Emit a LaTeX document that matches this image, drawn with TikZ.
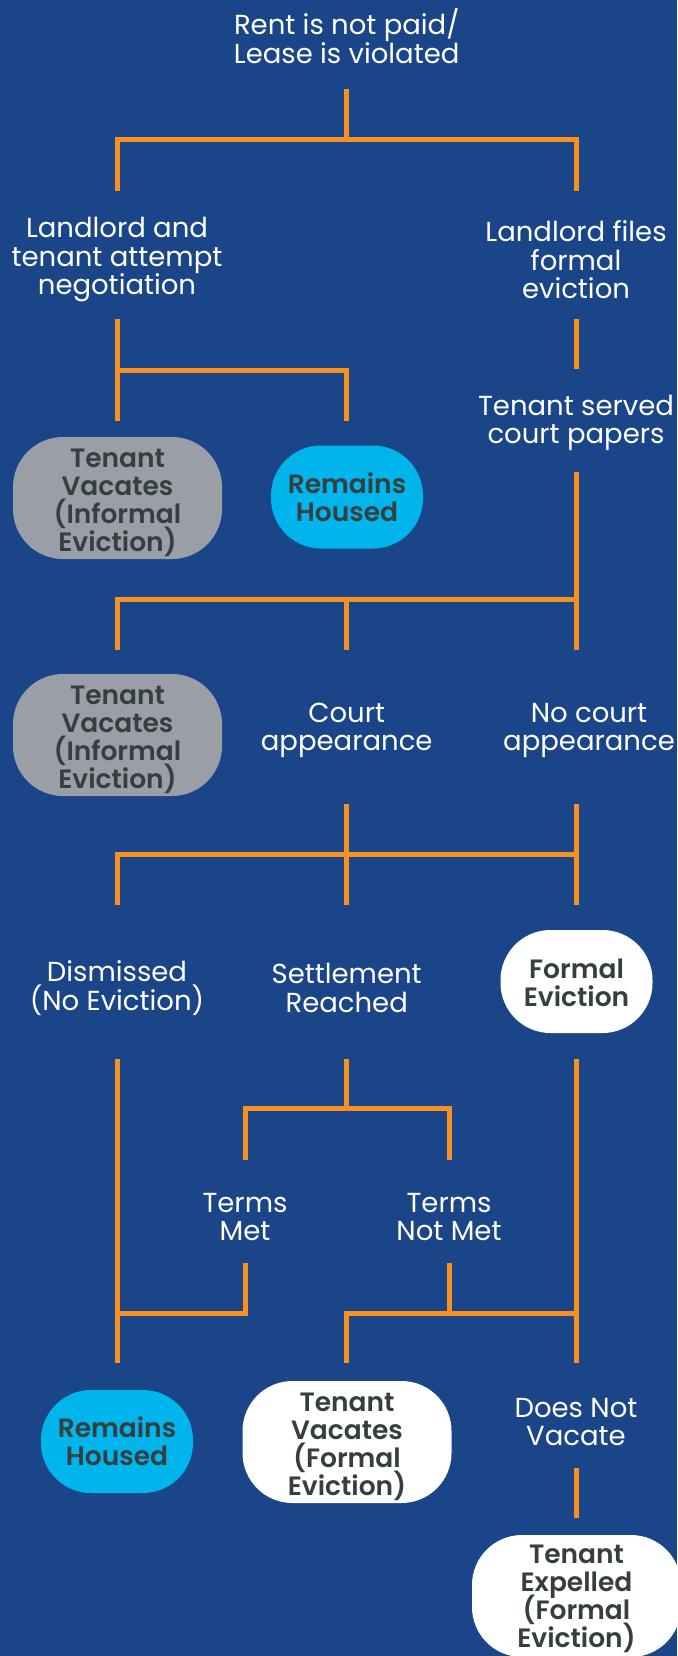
\documentclass[tikz,border=0pt]{standalone}
\usepackage{fontspec}
\setmainfont{Poppins}
\newfontfamily\medfont{Poppins SemiBold}
\definecolor{bg}{HTML}{1B4589}
\definecolor{orng}{HTML}{F7901E}
\definecolor{cyanb}{HTML}{00B4EC}
\definecolor{grayb}{HTML}{9A9EA6}
\definecolor{dtext}{HTML}{363F40}
\newcommand{\pushdown}[1]{\rule{0pt}{#1}}
\setlength{\lineskiplimit}{-30pt}
\begin{document}
\begin{tikzpicture}[x=1pt,y=-1pt,
  lbl/.style={text=white,align=center,inner sep=0pt,font=\fontsize{27.5}{28.5}\selectfont},
  oval/.style={align=center,inner sep=0pt,text=dtext,font=\medfont\fontsize{26.5}{28}\selectfont,rounded corners=50pt},
  bigoval/.style={oval,minimum width=209pt,minimum height=122pt},
  smalloval/.style={oval,minimum width=152pt,minimum height=103pt},
  conn/.style={draw=orng,line width=5pt,line join=miter}]
\def\L{117}\def\C{346.7}\def\R{576}\def\TM{245}\def\TN{449}
\fill[bg] (0,0) rectangle (677,1656);
\useasboundingbox (0,0) rectangle (677,1656);
% labels
\node[lbl] (root) at (\C,36) {Rent is not paid/\\Lease is violated};
\node[lbl] (nego) at (\L,260) {Landlord and\\tenant attempt\\negotiation};
\node[lbl] (files) at (\R,260) {Landlord files\\formal\\eviction};
\node[lbl] (served) at (\R,423) {Tenant served\\court papers};
\node[bigoval,fill=grayb] (vac1) at (117.5,498) {\pushdown{28.5pt}Tenant\\Vacates\\(Informal\\Eviction)};
\node[smalloval,fill=cyanb] (rem1) at (347,497) {Remains\\Housed};
\node[bigoval,fill=grayb] (vac2) at (117.5,735) {\pushdown{28.5pt}Tenant\\Vacates\\(Informal\\Eviction)};
\node[lbl] (court) at (\C,730.5) {Court\\appearance};
\node[lbl] (nocourt) at (589,730.5) {No court\\appearance};
\node[lbl] (dism) at (\L,988) {Dismissed\\(No Eviction)};
\node[lbl] (settle) at (\C,988) {Settlement\\Reached};
\node[smalloval,fill=white] (formal) at (576.5,981.5) {\pushdown{22.5pt}Formal\\Eviction};
\node[lbl] (met) at (\TM,1217) {Terms\\Met};
\node[lbl] (notmet) at (\TN,1217) {Terms\\Not Met};
\node[smalloval,fill=cyanb] (rem2) at (117,1441.5) {Remains\\Housed};
\node[bigoval,fill=white] (vac3) at (347,1442) {\pushdown{28.5pt}Tenant\\Vacates\\(Formal\\Eviction)};
\node[lbl] (novac) at (\R,1422) {Does Not\\Vacate};
\node[bigoval,fill=white] (expel) at (576.5,1596) {\pushdown{24pt}Tenant\\Expelled\\(Formal\\Eviction)};
% coordinates
\coordinate (a0) at (\C,89); \coordinate (a1) at (\C,140);
\coordinate (a2) at (\L,140); \coordinate (a3) at (\R,140);
\coordinate (a4) at (\L,191); \coordinate (a5) at (\R,191);
\coordinate (b0) at (\L,319); \coordinate (b1) at (\L,421);
\coordinate (b2) at (\L,370); \coordinate (b3) at (\C,370); \coordinate (b4) at (\C,421);
\coordinate (c0) at (\R,319); \coordinate (c1) at (\R,369);
\coordinate (d0) at (\R,472); \coordinate (d1) at (\R,650);
\coordinate (d2) at (\R,599); \coordinate (d3) at (\L,599); \coordinate (d4) at (\L,650);
\coordinate (d5) at (\C,599); \coordinate (d6) at (\C,650);
\coordinate (e0) at (\C,804); \coordinate (e1) at (\C,905);
\coordinate (e2) at (\R,804); \coordinate (e3) at (\R,905);
\coordinate (e4) at (\L,905); \coordinate (e5) at (\L,854); \coordinate (e6) at (\R,854);
\coordinate (f0) at (\L,1059); \coordinate (f1) at (\L,1363);
\coordinate (f2) at (\L,1313); \coordinate (f3) at (\TM,1313); \coordinate (f4) at (\TM,1263);
\coordinate (g0) at (\C,1059); \coordinate (g1) at (\C,1108);
\coordinate (g2) at (\TM,1160); \coordinate (g3) at (\TM,1108); \coordinate (g4) at (\TN,1108); \coordinate (g5) at (\TN,1160);
\coordinate (h0) at (\TN,1263); \coordinate (h1) at (\TN,1313);
\coordinate (h2) at (\C,1363); \coordinate (h3) at (\C,1313); \coordinate (h4) at (\R,1313);
\coordinate (h5) at (\R,1059); \coordinate (h6) at (\R,1363);
\coordinate (k0) at (\R,1468); \coordinate (k1) at (\R,1518);
% connectors
\draw[conn] (a0) -- (a1);
\draw[conn] (a4) -- (a2) -- (a3) -- (a5);
\draw[conn] (b0) -- (b1);
\draw[conn] (b2) -- (b3) -- (b4);
\draw[conn] (c0) -- (c1);
\draw[conn] (d0) -- (d1);
\draw[conn] (d2) -- (d3) -- (d4);
\draw[conn] (d5) -- (d6);
\draw[conn] (e0) -- (e1);
\draw[conn] (e2) -- (e3);
\draw[conn] (e4) -- (e5) -- (e6);
\draw[conn] (f0) -- (f1);
\draw[conn] (f2) -- (f3) -- (f4);
\draw[conn] (g0) -- (g1);
\draw[conn] (g2) -- (g3) -- (g4) -- (g5);
\draw[conn] (h0) -- (h1);
\draw[conn] (h2) -- (h3) -- (h4);
\draw[conn] (h5) -- (h6);
\draw[conn] (k0) -- (k1);
\end{tikzpicture}
\end{document}
